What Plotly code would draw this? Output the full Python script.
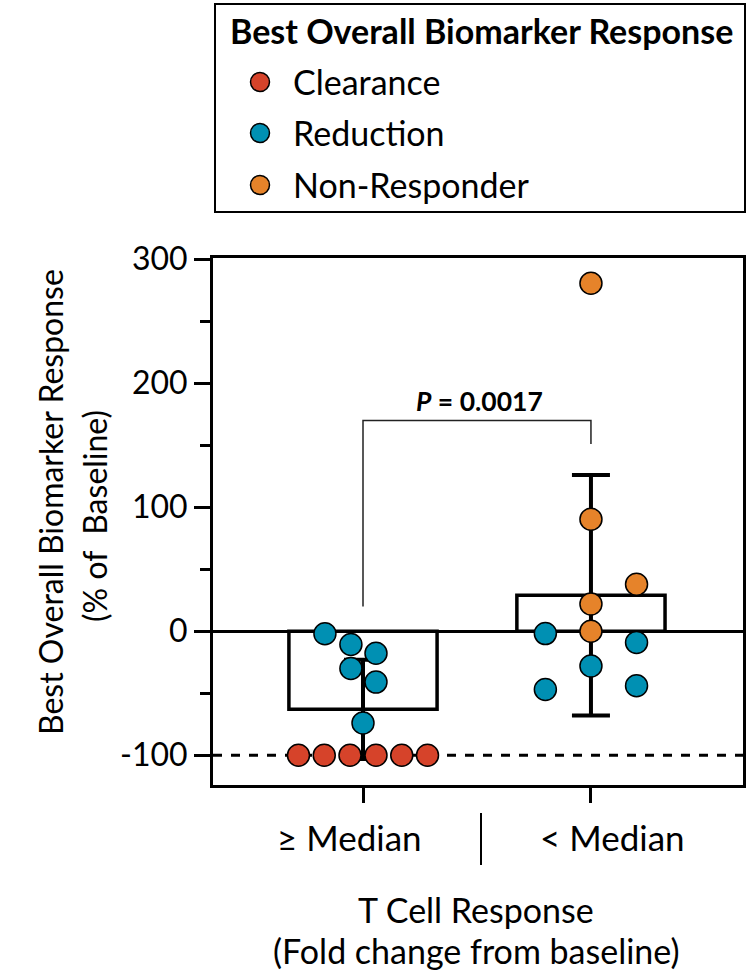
import plotly.graph_objects as go

# ---------------- data ----------------
categories = ["≥ Median", "< Median"]
bar_mean = [-63, 29]
bar_sd = [40, 97]

# Clearance (all in ≥ Median group)
clear_group = [0, 0, 0, 0, 0, 0]
clear_vals = [-100, -100, -100, -100, -100, -100]
clear_jitter = [-0.283, -0.170, -0.057, 0.057, 0.170, 0.283]

# Reduction
red_group = [0, 0, 0, 0, 0, 0, 1, 1, 1, 1, 1]
red_vals = [-2, -10.7, -17.7, -30, -41, -74, -1.9, -9.1, -28, -47, -44]
red_jitter = [-0.167, -0.053, 0.057, -0.053, 0.057, 0.0, -0.2, 0.2, 0.0, -0.2, 0.2]

# Non-Responder (all in < Median group)
non_group = [1, 1, 1, 1, 1]
non_vals = [280.6, 90.3, 37.9, 22, 0]
non_jitter = [0.0, 0.0, 0.2, 0.0, 0.0]

legend_title = "Best Overall Biomarker Response"
legend_labels = ["Clearance", "Reduction", "Non-Responder"]
colors = ["#D6432A", "#0090B3", "#E6832A"]

y_tickvals = [-100, 0, 100, 200, 300]
y_ticktext = ["-100", "0", "100", "200", "300"]
y_minor = [-50, 50, 150, 250]

y_title = ["Best Overall Biomarker Response", "(% of  Baseline)"]
x_title = ["T Cell Response", "(Fold change from baseline)"]
p_text = "<b><i>P</i> = 0.0017</b>"
bracket_y = [20, 170, 151]  # left leg bottom, top, right leg bottom

FONT = "Lato"
W, H = 755, 972

fig = go.Figure()

# bars with SD error bars
fig.add_trace(go.Bar(
    x=[0, 1], y=bar_mean, width=0.65,
    marker=dict(color="white", line=dict(color="black", width=3.5)),
    error_y=dict(type="data", array=bar_sd, visible=True, color="black",
                 thickness=4, width=19),
    showlegend=False, hoverinfo="skip"))

def pts(groups, vals, jit, color, name):
    fig.add_trace(go.Scatter(
        x=[g + j for g, j in zip(groups, jit)], y=vals, mode="markers", name=name,
        marker=dict(size=22, color=color, line=dict(color="black", width=1.5)),
        cliponaxis=False, showlegend=False))

pts(clear_group, clear_vals, clear_jitter, colors[0], legend_labels[0])
pts(red_group, red_vals, red_jitter, colors[1], legend_labels[1])
pts(non_group, non_vals, non_jitter, colors[2], legend_labels[2])

# legend markers on a pixel-space overlay axis
leg_y = [82, 133, 185]
fig.add_trace(go.Scatter(
    x=[260, 260, 260], y=leg_y, xaxis="x2", yaxis="y2", mode="markers",
    marker=dict(size=19, color=colors, line=dict(color="black", width=1.5)),
    showlegend=False, hoverinfo="skip", cliponaxis=False))

shapes = [
    # dashed -100 reference line
    dict(type="line", xref="x domain", x0=0, x1=1, yref="y", y0=-100, y1=-100,
         line=dict(color="black", width=3, dash="dash"), layer="below"),
    # significance bracket
    dict(type="path", xref="x", yref="y",
         path=f"M 0,{bracket_y[0]} L 0,{bracket_y[1]} L 1,{bracket_y[1]} L 1,{bracket_y[2]}",
         line=dict(color="#222222", width=1.5)),
    # category separator
    dict(type="line", xref="paper", yref="paper", x0=481 / W, x1=481 / W,
         y0=1 - 865 / H, y1=1 - 813 / H, line=dict(color="black", width=2)),
    # legend box
    dict(type="rect", xref="paper", yref="paper", x0=215 / W, x1=745 / W,
         y0=1 - 212 / H, y1=1 - 4 / H, line=dict(color="black", width=2)),
]

annotations = [
    dict(x=0.51, y=186, xref="x", yref="y", text=p_text, showarrow=False,
         xanchor="center", yanchor="middle", font=dict(size=26.5)),
    dict(x=50 / W, y=1 - 502 / H, xref="paper", yref="paper", textangle=-90,
         text=y_title[0], xanchor="center", yanchor="middle",
         showarrow=False, font=dict(size=32)),
    dict(x=94 / W, y=1 - 516 / H, xref="paper", yref="paper", textangle=-90,
         text=y_title[1], xanchor="center", yanchor="middle",
         showarrow=False, font=dict(size=32)),
    dict(x=-0.06, y=1 - 837 / H, xref="x", yref="paper", text=categories[0],
         xanchor="center", yanchor="middle", showarrow=False, font=dict(size=35)),
    dict(x=1.095, y=1 - 837 / H, xref="x", yref="paper", text=categories[1],
         xanchor="center", yanchor="middle", showarrow=False, font=dict(size=35)),
    dict(x=476 / W, y=1 - 909 / H, xref="paper", yref="paper", text=x_title[0],
         xanchor="center", yanchor="middle", showarrow=False, font=dict(size=34)),
    dict(x=476 / W, y=1 - 950 / H, xref="paper", yref="paper", text=x_title[1],
         xanchor="center", yanchor="middle", showarrow=False, font=dict(size=34)),
    dict(x=481, y=30, xref="x2", yref="y2", text=f"<b>{legend_title}</b>",
         xanchor="center", yanchor="middle", showarrow=False, font=dict(size=34)),
]
for lab, yy in zip(legend_labels, leg_y):
    annotations.append(dict(x=291, y=yy - 1, xref="x2", yref="y2", text=lab,
                            xanchor="left", yanchor="middle", showarrow=False,
                            font=dict(size=34)))

fig.update_layout(
    template="none",
    width=W, height=H,
    margin=dict(l=0, r=0, t=0, b=0, pad=0, autoexpand=False),
    paper_bgcolor="white", plot_bgcolor="rgba(0,0,0,0)",
    font=dict(family=FONT, size=33, color="black"),
    showlegend=False, shapes=shapes, annotations=annotations,
    xaxis=dict(domain=[213 / W, 743 / W], range=[-0.658, 1.667],
               automargin=False,
               showline=True, mirror=True, linewidth=3, linecolor="black",
               ticks="outside", tickvals=[0, 1], ticklen=15, tickwidth=3,
               tickcolor="black", showticklabels=False, showgrid=False,
               zeroline=False, fixedrange=True),
    yaxis=dict(domain=[1 - 785 / H, 1 - 258 / H], range=[-124, 301],
               automargin=False,
               showline=True, mirror=True, linewidth=3, linecolor="black",
               ticks="outside", tickvals=y_tickvals, ticktext=y_ticktext,
               ticklen=16, tickwidth=3, tickcolor="black",
               tickfont=dict(size=32),
               minor=dict(tickvals=y_minor, ticks="outside", ticklen=10,
                          tickwidth=3, tickcolor="black"),
               showgrid=False, zeroline=True, zerolinewidth=3,
               zerolinecolor="black", fixedrange=True),
    xaxis2=dict(domain=[0, 1], range=[0, W], visible=False, anchor="y2",
                automargin=False, fixedrange=True),
    yaxis2=dict(domain=[0, 1], range=[H, 0], visible=False, anchor="x2",
                automargin=False, fixedrange=True),
)

fig.write_html("out.html",
               config={"displayModeBar": False},
               post_script="document.body.style.margin='0';")
